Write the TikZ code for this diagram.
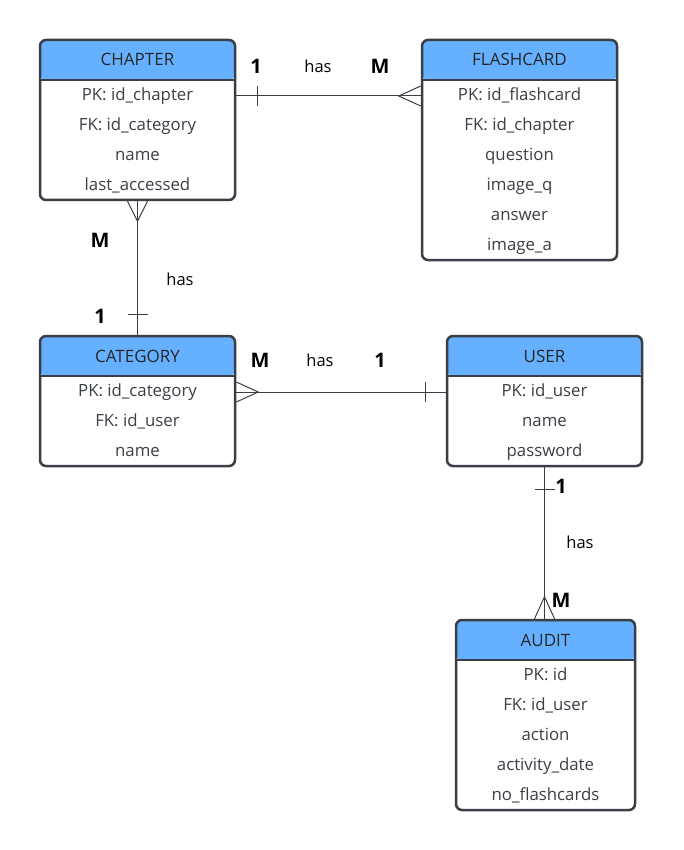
\documentclass[tikz,border=0pt]{standalone}
\usepackage{fontspec}
\setmainfont{Open Sans}
\usepackage{tikz}

\definecolor{headblue}{HTML}{66B1FF}
\definecolor{edgegray}{HTML}{393E47}
\definecolor{textgray}{HTML}{3B3F46}

\tikzset{
  entity/.style={draw=edgegray, line width=2.5pt, rounded corners=6pt, fill=white,
    minimum width=195pt, inner sep=0pt,
    path picture={
      \fill[headblue] (path picture bounding box.north west) rectangle ([yshift=-40pt]path picture bounding box.north east);
      \draw[edgegray, line width=2.5pt] ([yshift=-40pt]path picture bounding box.north west) -- ([yshift=-40pt]path picture bounding box.north east);
    }},
  title/.style={font=\fontsize{17}{20}\selectfont, text=black!85, text height=12pt, text depth=0pt},
  attr/.style={font=\fontsize{16.8}{20}\selectfont, text=textgray, text height=12.5pt, text depth=3.5pt},
  card/.style={font=\fontsize{20}{24}\selectfont\bfseries, text=black},
  verb/.style={font=\fontsize{16.5}{19}\selectfont, text=black},
  rel/.style={draw=edgegray, line width=1pt}
}

\begin{document}
\begin{tikzpicture}[x=1pt, y=-1pt]
    \useasboundingbox (0,0) rectangle (683,850);

    % entities
    \node[entity, minimum width=195pt, minimum height=160pt] (chapter) at (137.5,120) {};
    \node[title] (chapter-t) at (137.5,60) {CHAPTER};
    \foreach \t [count=\i] in {PK: id\_chapter, FK: id\_category, name, last\_accessed}
        \node[attr] (chapter-\i) at (137.5,66+30*\i) {\t};

    \node[entity, minimum width=195pt, minimum height=220pt] (flashcard) at (519.5,150) {};
    \node[title] (flashcard-t) at (519.5,60) {FLASHCARD};
    \foreach \t [count=\i] in {PK: id\_flashcard, FK: id\_chapter, question, image\_q, answer, image\_a}
        \node[attr] (flashcard-\i) at (519.5,66+30*\i) {\t};

    \node[entity, minimum width=195pt, minimum height=130pt] (category) at (137.5,401) {};
    \node[title] (category-t) at (137.5,356) {CATEGORY};
    \foreach \t [count=\i] in {PK: id\_category, FK: id\_user, name}
        \node[attr] (category-\i) at (137.5,362+30*\i) {\t};

    \node[entity, minimum width=195pt, minimum height=130pt] (user) at (544.5,401) {};
    \node[title] (user-t) at (544.5,356) {USER};
    \foreach \t [count=\i] in {PK: id\_user, name, password}
        \node[attr] (user-\i) at (544.5,362+30*\i) {\t};

    \node[entity, minimum width=179pt, minimum height=190pt] (audit) at (545.5,715) {};
    \node[title] (audit-t) at (545.5,640) {AUDIT};
    \foreach \t [count=\i] in {PK: id, FK: id\_user, action, activity\_date, no\_flashcards}
        \node[attr] (audit-\i) at (545.5,646+30*\i) {\t};

    % chapter -- flashcard
    \draw[rel] (chapter.east |- chapter-1) -- (flashcard.west |- chapter-1);
    \draw[rel] ([xshift=21pt]chapter.east |- chapter-1) ++(0,-10) -- ++(0,20);
    \draw[rel] (flashcard.west |- chapter-1) ++(0,-10) -- ++(-22,10) -- ++(22,10);
    \node[card] (c1) at (256,66) {1};
    \node[verb] (has1) at (318,66) {has};
    \node[card] (m1) at (380,66) {M};

    % chapter -- category
    \draw[rel] (chapter.south) -- (category.north);
    \draw[rel] (chapter.south) ++(-10,0) -- ++(10,20) -- ++(10,-20);
    \draw[rel] ([yshift=20pt]category.north) ++(-10,0) -- ++(20,0);
    \node[card] (m2) at (100,240) {M};
    \node[verb] (has2) at (180,279) {has};
    \node[card] (c2) at (100,316) {1};

    % category -- user
    \draw[rel] (category.east |- category-1) -- (user.west |- category-1);
    \draw[rel] (category.east |- category-1) ++(0,-10) -- ++(22,10) -- ++(-22,10);
    \draw[rel] ([xshift=-20pt]user.west |- category-1) ++(0,-10) -- ++(0,20);
    \node[card] (m3) at (260,360) {M};
    \node[verb] (has3) at (320,360) {has};
    \node[card] (c3) at (380,360) {1};

    % user -- audit
    \draw[rel] (user.south) -- (user.south |- audit.north);
    \draw[rel] ([yshift=-22pt]user.south) ++(-10,0) -- ++(20,0);
    \draw[rel] (user.south |- audit.north) ++(-10,0) -- ++(10,-22) -- ++(10,22);
    \node[card] (c4) at (561,486) {1};
    \node[verb] (has4) at (580,542) {has};
    \node[card] (m4) at (561,600) {M};
\end{tikzpicture}
\end{document}
